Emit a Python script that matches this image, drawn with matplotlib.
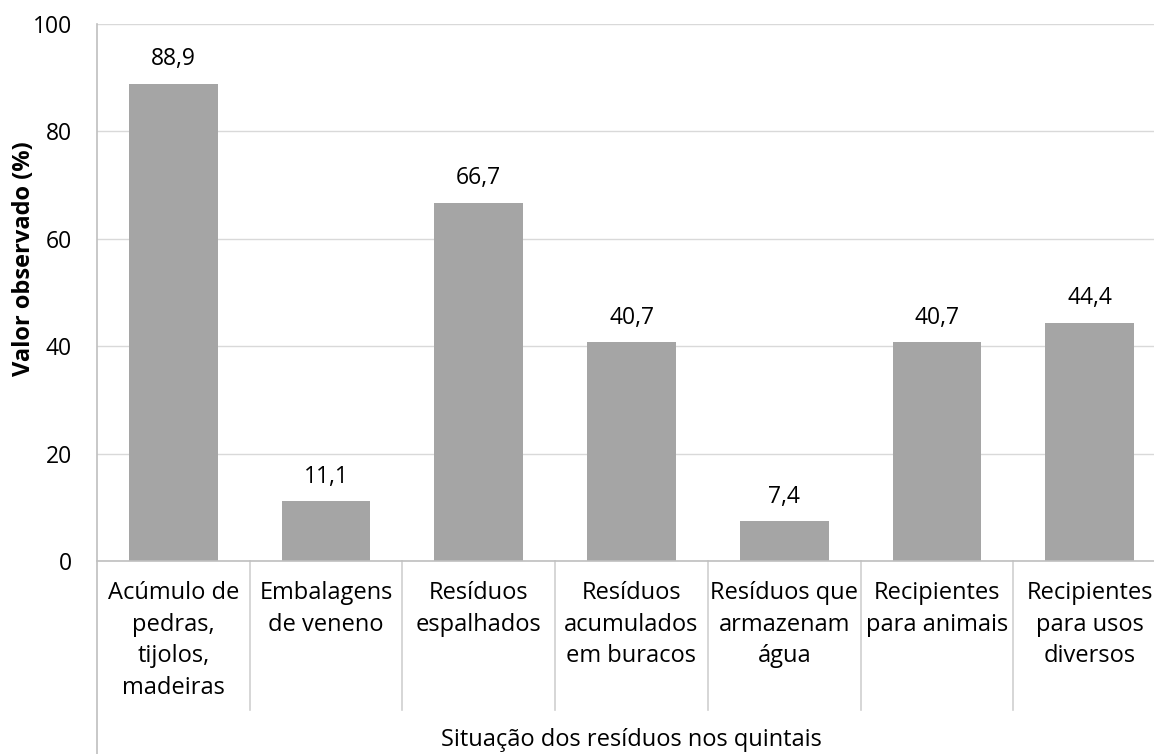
import matplotlib.pyplot as plt
import matplotlib.transforms as mtransforms

plt.rcParams['font.family'] = ['Open Sans', 'DejaVu Sans']
fs = 17
fs_tick = 16.5

categorias = ["Acúmulo de\npedras,\ntijolos,\nmadeiras",
              "Embalagens\nde veneno",
              "Resíduos\nespalhados",
              "Resíduos\nacumulados\nem buracos",
              "Resíduos que\narmazenam\nágua",
              "Recipientes\npara animais",
              "Recipientes\npara usos\ndiversos"]
valores = [88.9, 11.1, 66.7, 40.7, 7.4, 40.7, 44.4]
yticks = [0, 20, 40, 60, 80, 100]

W, H = 1154, 754
fig = plt.figure(figsize=(W / 100, H / 100), dpi=100)
ax = fig.add_axes([97 / W, (H - 561) / H, 1069 / W, 537 / H])

x = list(range(len(valores)))
ax.bar(x, valores, width=0.58, color='#a5a5a5', zorder=3)
ax.set_xlim(-0.5, len(valores) - 0.5)
ax.set_ylim(0, 100)
ax.set_yticks(yticks)
ax.set_xticks([])
ax.grid(axis='y', color='#d9d9d9', linewidth=1, zorder=0)
ax.tick_params(axis='y', length=0, pad=18, labelsize=fs_tick)

for s in ['top', 'right', 'left', 'bottom']:
    ax.spines[s].set_visible(False)

# linhas de eixo estilo Excel
trans = mtransforms.blended_transform_factory(ax.transData, ax.transAxes)
ax.plot([-0.5, len(valores) - 0.5], [0, 0], transform=trans, color='#bfbfbf',
        lw=1.2, clip_on=False, zorder=4)
ax.plot([-0.5, -0.5], [1, -(H - 561) / 537], transform=trans, color='#bfbfbf',
        lw=1.2, clip_on=False, zorder=4)
for i in range(len(valores) - 1):
    ax.plot([i + 0.5, i + 0.5], [0, -(710 - 561) / 537], transform=trans,
            color='#d0d0d0', lw=1.2, clip_on=False)

for i, v in enumerate(valores):
    ax.annotate(f"{v:.1f}".replace('.', ','), (i, v), xytext=(0, 9),
                textcoords='offset points', ha='center', va='bottom', fontsize=fs_tick)
    ax.text(i, -(581 - 561) / 537, categorias[i], transform=trans, ha='center',
            va='top', fontsize=fs, linespacing=1.42)

ax.text(3, -(740 - 561) / 537, "Situação dos resíduos nos quintais", transform=trans,
        ha='center', va='center', fontsize=fs)
fig.text(24 / W, (H - 259) / H, "Valor observado (%)", rotation=90, ha='center',
         va='center', fontsize=fs, fontweight='bold')

fig.savefig('out.png', dpi=100)
